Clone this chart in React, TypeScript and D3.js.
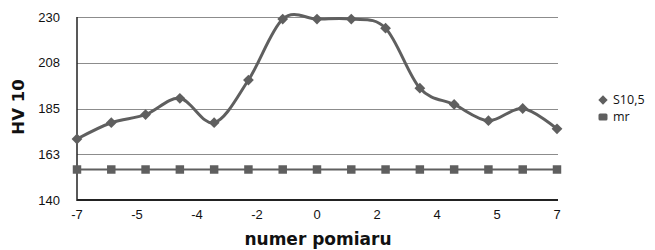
import React from "react";
import * as d3 from "d3";

const positions = [-7, -6, -5, -4, -3, -2, -1, 0, 1, 2, 3, 4, 5, 6, 7];
const s105 = [170, 178, 182, 190, 178, 199, 229, 229, 229, 224.5, 195, 187, 179, 185, 175];
const mr = [155, 155, 155, 155, 155, 155, 155, 155, 155, 155, 155, 155, 155, 155, 155];
const seriesNames = ["S10,5", "mr"];
const yTicks = [140, 162.5, 185, 207.5, 230];
const xTicks = [-7, -5.25, -3.5, -1.75, 0, 1.75, 3.5, 5.25, 7];
const yTitle = "HV 10";
const xTitle = "numer pomiaru";

const W = 655;
const H = 250;
const COLOR = "#5f5f5f";

function excelRound(v: number) {
  return Math.sign(v) * Math.round(Math.abs(v));
}

export default function App() {
  const x = d3.scaleLinear().domain([-7, 7]).range([77, 557]);
  const y = d3.scaleLinear().domain([140, 230]).range([200, 17]);

  const line = d3
    .line<[number, number]>()
    .x((d) => x(d[0]))
    .y((d) => y(d[1]))
    .curve(d3.curveCardinal.tension(0));
  const straight = d3
    .line<[number, number]>()
    .x((d) => x(d[0]))
    .y((d) => y(d[1]));

  const sData = positions.map((p, i) => [p, s105[i]] as [number, number]);
  const mData = positions.map((p, i) => [p, mr[i]] as [number, number]);

  const diamond = d3.symbol(d3.symbolSquare, 58)()!;
  const square = d3.symbol(d3.symbolSquare, 72)()!;
  const font = "'Liberation Sans', Arial, sans-serif";

  return (
    <svg
      width={W}
      height={H}
      style={{ position: "absolute", left: 0, top: 0, background: "#fff" }}
    >
      {/* gridlines */}
      {yTicks.slice(1).map((t) => (
        <line
          key={"g" + t}
          x1={x(-7)}
          x2={x(7) + 1}
          y1={Math.round(y(t)) + 0.5}
          y2={Math.round(y(t)) + 0.5}
          stroke="#8c8c8c"
          strokeWidth={1}
        />
      ))}
      {/* axes */}
      <line x1={x(-7)} x2={x(-7)} y1={y(230)} y2={y(140) + 1} stroke="#222" strokeWidth={1.5} />
      <line x1={x(-7)} x2={x(7) + 1} y1={y(140)} y2={y(140)} stroke="#222" strokeWidth={2} />
      {/* y tick labels */}
      {yTicks.map((t) => (
        <text
          key={"yt" + t}
          x={60}
          y={y(t)}
          dy="0.35em"
          textAnchor="end"
          fontFamily={font}
          fontSize={13}
          fill="#111"
        >
          {excelRound(t)}
        </text>
      ))}
      {/* x tick labels */}
      {xTicks.map((t) => (
        <text
          key={"xt" + t}
          x={x(t)}
          y={219}
          textAnchor="middle"
          fontFamily={font}
          fontSize={13}
          fill="#111"
        >
          {excelRound(t)}
        </text>
      ))}
      {/* titles */}
      <text
        transform={`translate(24,${107}) rotate(-90)`}
        textAnchor="middle"
        fontFamily="'DejaVu Sans', Verdana, sans-serif"
        fontWeight="bold"
        fontSize={16.5}
        fill="#111"
      >
        {yTitle}
      </text>
      <text
        x={318}
        y={245}
        textAnchor="middle"
        fontFamily="'DejaVu Sans', Verdana, sans-serif"
        fontWeight="bold"
        fontSize={17}
        fill="#111"
      >
        {xTitle}
      </text>
      {/* series lines */}
      <path d={straight(mData)!} fill="none" stroke={COLOR} strokeWidth={2.2} />
      <path d={line(sData)!} fill="none" stroke={COLOR} strokeWidth={3} />
      {/* markers */}
      {mData.map((d, i) => (
        <path key={"m" + i} d={square} transform={`translate(${x(d[0])},${y(d[1])})`} fill={COLOR} />
      ))}
      {sData.map((d, i) => (
        <path
          key={"s" + i}
          d={diamond}
          transform={`translate(${x(d[0])},${y(d[1])}) rotate(45)`}
          fill={COLOR}
        />
      ))}
      {/* legend */}
      <path d={d3.symbol(d3.symbolSquare, 44)()!} transform="translate(603,100) rotate(45)" fill={COLOR} />
      <text x={613} y={100} dy="0.35em" fontFamily="'Open Sans', sans-serif" fontSize={12.5} fill="#111">
        {seriesNames[0]}
      </text>
      <rect x={598.5} y={113.5} width={9} height={7} rx={1.5} fill={COLOR} />
      <text x={613} y={117} dy="0.35em" fontFamily="'Open Sans', sans-serif" fontSize={12.5} fill="#111">
        {seriesNames[1]}
      </text>
    </svg>
  );
}
